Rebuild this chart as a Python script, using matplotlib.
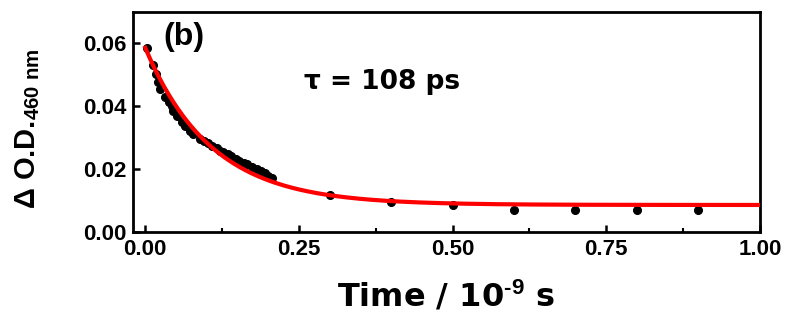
import numpy as np
import matplotlib
matplotlib.use("Agg")
import matplotlib.pyplot as plt
from matplotlib.ticker import MultipleLocator

# 数据点 (时间 / ns, ΔO.D.)
time_ns = [0.003, 0.013, 0.018, 0.021, 0.024, 0.032, 0.039, 0.044, 0.045,
           0.052, 0.060, 0.065, 0.073, 0.077, 0.089, 0.095, 0.102, 0.108,
           0.116, 0.121, 0.126, 0.134, 0.140, 0.147, 0.153, 0.160, 0.166,
           0.174, 0.182, 0.189, 0.194, 0.200, 0.206,
           0.30, 0.40, 0.50, 0.60, 0.70, 0.80, 0.90]
delta_od = [0.0584, 0.0530, 0.0504, 0.0478, 0.0456, 0.0430, 0.0414, 0.0401,
            0.0385, 0.0369, 0.0350, 0.0337, 0.0321, 0.0311, 0.0296, 0.0288,
            0.0283, 0.0273, 0.0266, 0.0259, 0.0255, 0.0248, 0.0241, 0.0232,
            0.0225, 0.0221, 0.0215, 0.0208, 0.0199, 0.0193, 0.0187, 0.0178,
            0.0172,
            0.0119, 0.0096, 0.0087, 0.0071, 0.0071, 0.0071, 0.0071]

# 单指数拟合参数
fit_amp = 0.0500
fit_tau = 0.108   # ns
fit_y0 = 0.0086

plt.rcParams["font.family"] = ["Liberation Sans", "DejaVu Sans"]
plt.rcParams["font.weight"] = "bold"
plt.rcParams["mathtext.fontset"] = "custom"
plt.rcParams["mathtext.rm"] = "Liberation Sans:bold"
plt.rcParams["mathtext.bf"] = "Liberation Sans:bold"
plt.rcParams["mathtext.it"] = "Liberation Sans:bold"

WIDE = ["DejaVu Sans"]  # 参考图文字横向偏宽

fig = plt.figure(figsize=(7.85, 3.2), dpi=100)
ax = fig.add_axes([0.1694, 0.275, 0.7986, 0.6875])

t_fit = np.linspace(0.0, 1.0, 400)
ax.plot(t_fit, fit_amp * np.exp(-t_fit / fit_tau) + fit_y0,
        color="red", linewidth=3, zorder=3)
ax.plot(time_ns, delta_od, "o", color="black", markersize=5.5, zorder=2)

ax.set_xlim(-0.02, 1.0)
ax.set_ylim(0.0, 0.07)
ax.set_xticks([0.0, 0.25, 0.5, 0.75, 1.0])
ax.set_xticklabels(["0.00", "0.25", "0.50", "0.75", "1.00"])
ax.xaxis.set_minor_locator(MultipleLocator(0.125))
ax.set_yticks([0.0, 0.02, 0.04, 0.06])
ax.set_yticklabels(["0.00", "0.02", "0.04", "0.06"])

ax.tick_params(axis="both", which="major", direction="in", length=5,
               width=1.8, labelsize=16, pad=5)
ax.tick_params(axis="x", which="minor", direction="in", length=3, width=1.5)
for sp in ax.spines.values():
    sp.set_linewidth(2)

ax.set_xlabel("Time / 10$^{\\text{-9}}$ s", fontsize=23, fontweight="bold",
              family=WIDE)
ax.xaxis.set_label_coords(0.5, -0.215)
ax.set_ylabel("\u0394 O.D.$_{\\rm 460\\ nm}$", fontsize=21,
              fontweight="bold")
ax.yaxis.set_label_coords(-0.145, 0.47)

ax.text(0.03, 0.0595, "(b)", fontsize=23, fontweight="bold")
ax.text(0.258, 0.0456, "\u03c4 = 108 ps", fontsize=19, fontweight="bold",
        family=WIDE)

fig.savefig("out.png", dpi=100)
